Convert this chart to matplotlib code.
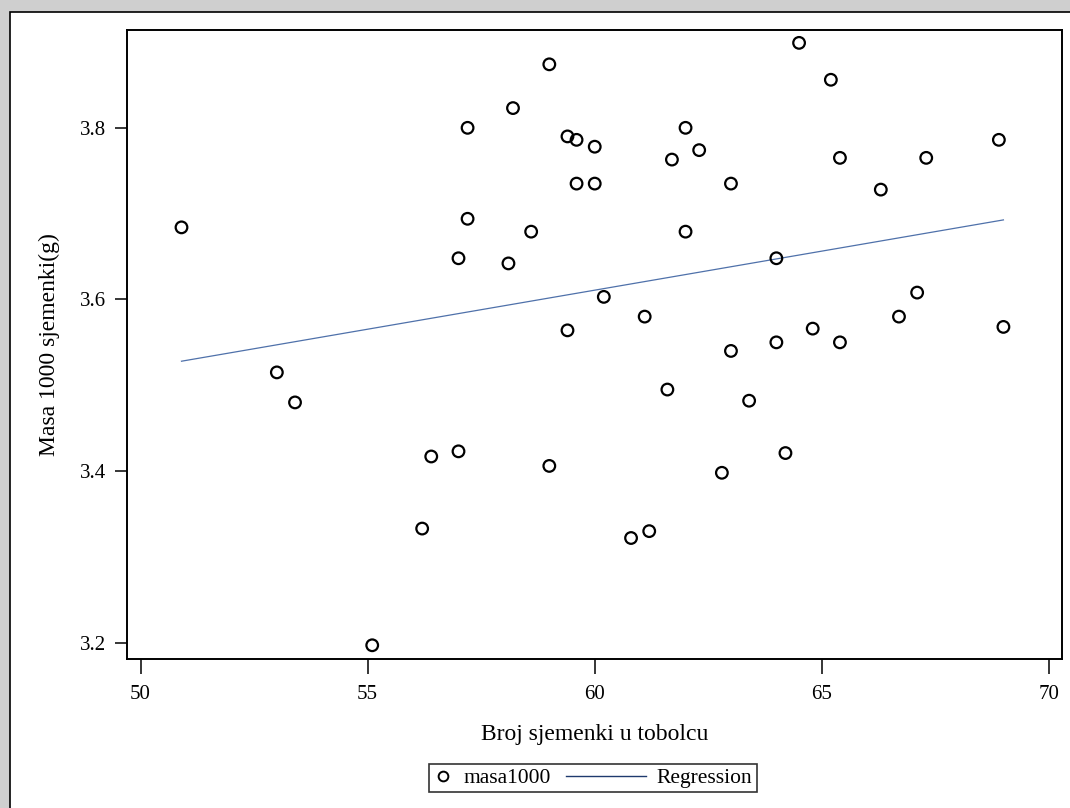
import numpy as np
import matplotlib
matplotlib.use("Agg")
import matplotlib.pyplot as plt
from matplotlib.patches import Rectangle
from matplotlib.lines import Line2D
from matplotlib.legend_handler import HandlerBase

# Broj sjemenki u tobolcu (x) and Masa 1000 sjemenki in g (y)
broj = [50.9, 53.0, 53.4, 55.1, 56.2, 56.4, 57.0, 57.0, 57.2, 57.2,
        58.1, 58.2, 58.6, 59.0, 59.0, 59.4, 59.4, 59.6, 59.6, 60.0,
        60.0, 60.2, 60.8, 61.1, 61.2, 61.6, 61.7, 62.0, 62.0, 62.3,
        62.8, 63.0, 63.0, 63.4, 64.0, 64.0, 64.2, 64.5, 64.8, 65.2,
        65.4, 65.4, 66.3, 66.7, 67.1, 67.3, 68.9, 69.0]
masa1000 = [3.684, 3.515, 3.480, 3.197, 3.333, 3.417, 3.423, 3.648, 3.694, 3.800,
            3.642, 3.823, 3.679, 3.874, 3.406, 3.790, 3.564, 3.786, 3.735, 3.778,
            3.735, 3.603, 3.322, 3.580, 3.330, 3.495, 3.763, 3.800, 3.679, 3.774,
            3.398, 3.735, 3.540, 3.482, 3.648, 3.550, 3.421, 3.899, 3.566, 3.856,
            3.765, 3.550, 3.728, 3.580, 3.608, 3.765, 3.786, 3.568]

x_ticks = [50, 55, 60, 65, 70]
y_ticks = [3.2, 3.4, 3.6, 3.8]


class LongLine(HandlerBase):
    # regression line in the legend is much longer than the marker slot
    def create_artists(self, legend, orig_handle, xdescent, ydescent,
                       width, height, fontsize, trans):
        y = height / 2 - ydescent
        ln = Line2D([-xdescent - 2.8 * fontsize, -xdescent + width], [y, y],
                    color=orig_handle.get_color(), linewidth=orig_handle.get_linewidth())
        ln.set_transform(trans)
        return [ln]


plt.rcParams["font.family"] = ["Liberation Serif", "DejaVu Serif"]

fig = plt.figure(figsize=(10.70, 8.08), dpi=100)
fig.patch.set_facecolor("#cfcfcf")

# white page with black border, as in the SAS output window
W, H = 1070, 808
page = Rectangle((9.5 / W, -0.01), 1.0, 1.01 - 11.5 / H, transform=fig.transFigure,
                 facecolor="white", edgecolor="black", linewidth=1.2, zorder=-1)
fig.patches.append(page)

ax = fig.add_axes([127 / W, 1 - 659 / H, (1062 - 127) / W, (659 - 30) / H])
ax.set_facecolor("none")

x = np.array(broj)
y = np.array(masa1000)
ax.scatter(x, y, s=70, facecolors="none", edgecolors="black", linewidths=1.6, zorder=3)

slope, intercept = np.polyfit(x, y, 1)
xs = np.array([x.min(), x.max()])
ax.plot(xs, intercept + slope * xs, color="#4f71aa", linewidth=0.9, zorder=2)

ax.set_xlim(49.70, 70.29)
ax.set_ylim(3.181, 3.914)
ax.set_xticks(x_ticks)
ax.set_yticks(y_ticks)
ax.set_yticklabels([f"{v:.1f}" for v in y_ticks])
ax.tick_params(axis="x", length=11, width=1.1, pad=8, labelsize=15)
ax.tick_params(axis="y", length=9, width=1.1, pad=6, labelsize=15)
for s in ax.spines.values():
    s.set_linewidth(1.4)

ax.set_xlabel("Broj sjemenki u tobolcu", fontsize=17, labelpad=14)
ax.set_ylabel("Masa 1000 sjemenki(g)", fontsize=17, labelpad=14)

h_pts = Line2D([], [], marker="o", linestyle="none", markerfacecolor="none",
               markeredgecolor="black", markeredgewidth=1.4, markersize=7)
h_reg = Line2D([], [], color="#1f3a6e", linewidth=1.0)
leg = fig.legend([h_pts, h_reg], ["masa1000", "Regression"], loc="center",
                 bbox_to_anchor=(593 / W, 1 - 778 / H), ncol=2, fontsize=15.5,
                 frameon=True, fancybox=False, handlelength=0.9,
                 handletextpad=0.5, columnspacing=3.5, borderpad=0.2,
                 handler_map={h_reg: LongLine()})
leg.get_frame().set_edgecolor("black")
leg.get_frame().set_linewidth(1.2)

fig.savefig("out.png", dpi=100, facecolor=fig.get_facecolor())
